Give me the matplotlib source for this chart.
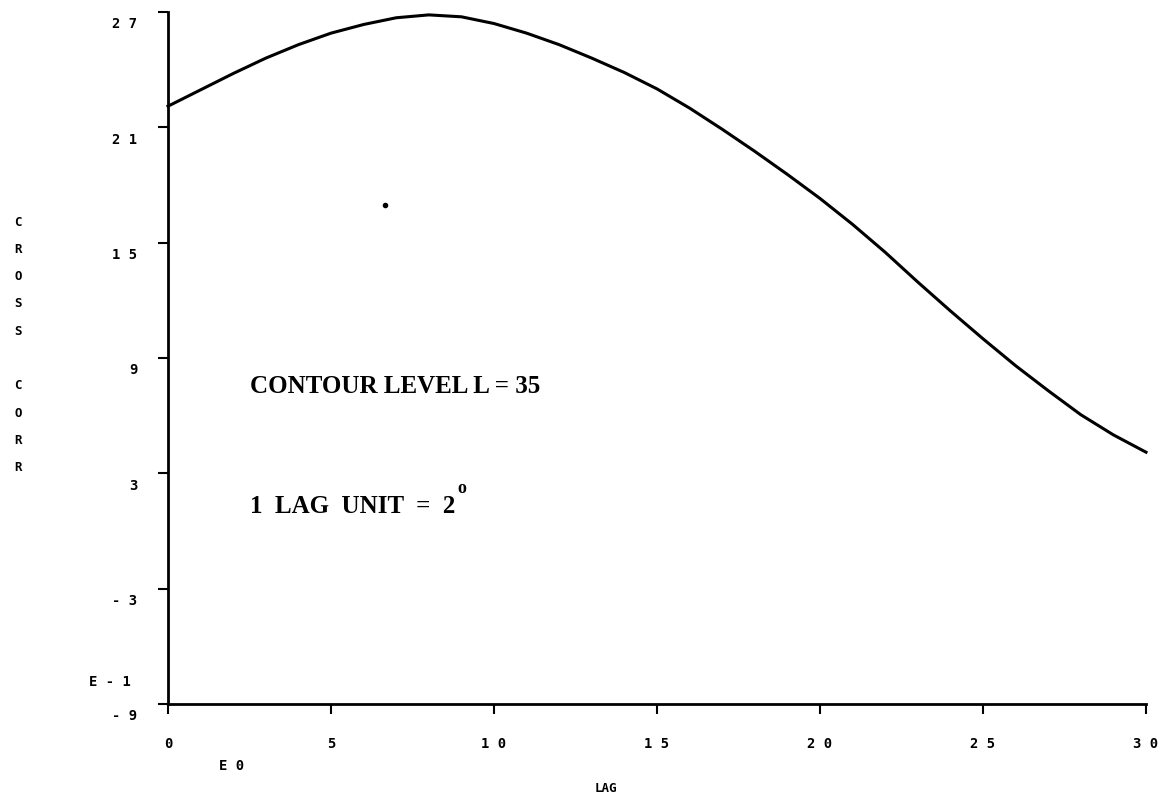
import matplotlib
matplotlib.use("Agg")
import matplotlib.pyplot as plt
from matplotlib.transforms import ScaledTranslation

# cross correlation vs lag (values in units of E-1)
lag = [0, 1, 2, 3, 4, 5, 6, 7, 8, 9, 10, 11, 12, 13, 14, 15,
       16, 17, 18, 19, 20, 21, 22, 23, 24, 25, 26, 27, 28, 29, 30]
corr = [22.1, 22.95, 23.8, 24.6, 25.3, 25.9, 26.35, 26.7, 26.85, 26.75, 26.4,
        25.9, 25.3, 24.6, 23.85, 23.0, 22.0, 20.9, 19.75, 18.55, 17.3,
        15.95, 14.5, 12.95, 11.45, 10.0, 8.6, 7.3, 6.05, 5.0, 4.1]

# stray dot on the original plot
dot_x = [6.66]
dot_y = [16.96]

xticks = [0, 5, 10, 15, 20, 25, 30]
xtick_labels = ["0", "5", "1 0", "1 5", "2 0", "2 5", "3 0"]
yticks = [-9, -3, 3, 9, 15, 21, 27]
ytick_labels = ["- 9", "- 3", "3", "9", "1 5", "2 1", "2 7"]

ylabel_letters = ["C", "R", "O", "S", "S", "", "C", "O", "R", "R"]

W, H = 1163, 798
fig = plt.figure(figsize=(W / 100, H / 100), dpi=100)
ax = fig.add_axes([168 / W, 1 - 704 / H, (1146 - 168) / W, (704 - 12) / H])

ax.plot(lag, corr, color="black", lw=2.2, clip_on=False)
ax.plot(dot_x, dot_y, "o", color="black", ms=3)

ax.set_xlim(0, 30)
ax.set_ylim(-9, 27)
for s in ["top", "right"]:
    ax.spines[s].set_visible(False)
for s in ["left", "bottom"]:
    ax.spines[s].set_linewidth(2.0)

mono = {"family": "DejaVu Sans Mono", "weight": "bold", "size": 10}
ax.set_xticks(xticks)
ax.set_xticklabels(xtick_labels, fontdict=mono)
ax.set_yticks(yticks)
ax.set_yticklabels(ytick_labels, fontdict=mono)
ax.tick_params(axis="both", direction="out", length=7, width=1.5)
ax.tick_params(axis="x", pad=17)
ax.tick_params(axis="y", pad=15)

# y labels sit a bit below their ticks
for lab in ax.get_yticklabels():
    lab.set_transform(lab.get_transform() + ScaledTranslation(0, -0.11, fig.dpi_scale_trans))

# exponent markers
fig.text(110 / W, 1 - 682 / H, "E - 1", ha="center", va="center", fontdict=mono)
fig.text(232 / W, 1 - 766 / H, "E 0", ha="center", va="center", fontdict=mono)
fig.text(606 / W, 1 - 788 / H, "LAG", ha="center", va="center",
         family="DejaVu Sans Mono", weight="bold", size=9)

# vertical y label, one letter per line
for i, ch in enumerate(ylabel_letters):
    fig.text(18 / W, 1 - (222 + i * 27.3) / H, ch, ha="center", va="center",
             family="DejaVu Sans Mono", weight="bold", size=9)

serif = {"family": "Liberation Serif", "weight": "bold", "size": 18}
ax.text(2.5, 7.5, "CONTOUR LEVEL L = 35", ha="left", va="center", fontdict=serif)
t = ax.text(2.5, 1.25, "1  LAG  UNIT  =  2", ha="left", va="center", fontdict=serif)
ax.annotate("o", xy=(1, 1), xycoords=t, xytext=(2, -1), textcoords="offset points",
            ha="left", va="bottom", family="Liberation Serif", weight="bold", size=13)

fig.savefig("out.png", dpi=100)
